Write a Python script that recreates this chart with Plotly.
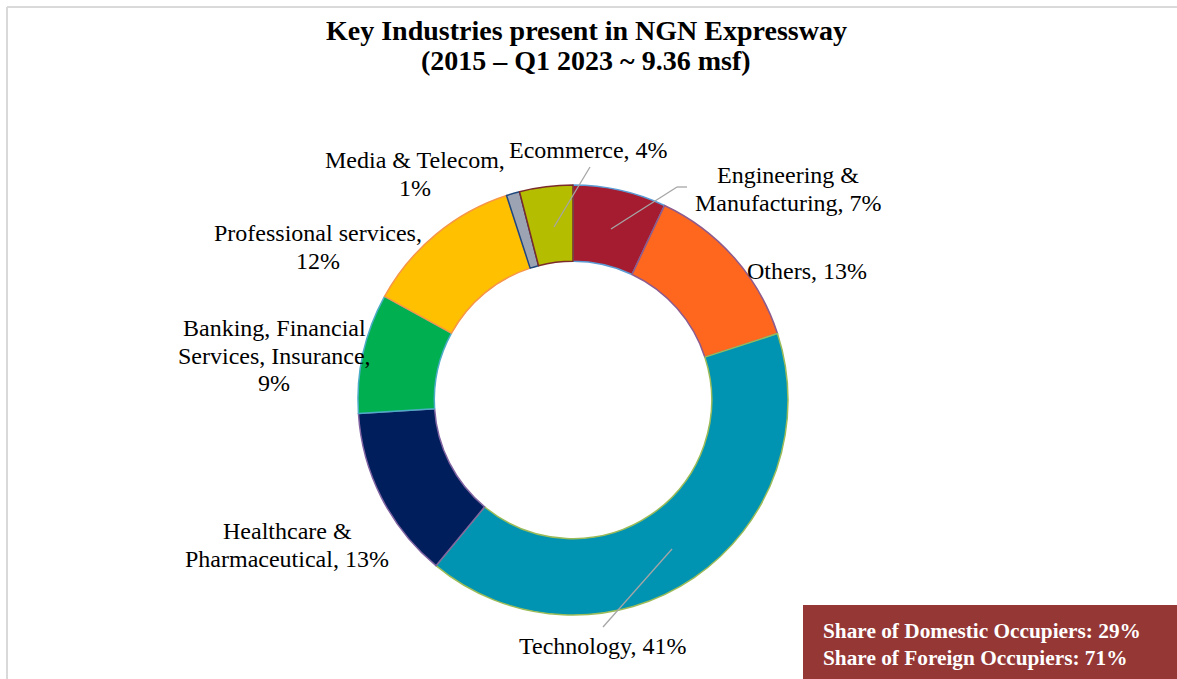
import plotly.graph_objects as go

W, H = 1177, 679

categories = ["Engineering & Manufacturing", "Others", "Technology",
              "Healthcare & Pharmaceutical", "Banking, Financial Services, Insurance",
              "Professional services", "Media & Telecom", "Ecommerce"]
shares = [7, 13, 41, 13, 9, 12, 1, 4]
label_lines = [["Engineering &", "Manufacturing, 7%"], ["Others, 13%"], ["Technology, 41%"],
               ["Healthcare &", "Pharmaceutical, 13%"],
               ["Banking, Financial", "Services, Insurance,", "9%"],
               ["Professional services,", "12%"], ["Media & Telecom,", "1%"], ["Ecommerce, 4%"]]
title_lines = ["Key Industries present in NGN Expressway", "(2015 – Q1 2023 ~ 9.36 msf)"]
info_lines = ["Share of Domestic Occupiers: 29%", "Share of Foreign Occupiers: 71%"]

fill_colors = ["#A51C30", "#FF671F", "#0093B2", "#001E5C", "#00B050", "#FFC000", "#9CA4B4", "#B5BD00"]
edge_colors = ["#5B9BD5", "#8E5B8E", "#9BBB59", "#8064A2", "#4BACC6", "#F79646", "#1F497D", "#7B2C2A"]

# label anchor positions (pixels, top-left origin): x centre, y of first line
label_pos = [(788, 175), (807, 271), (602, 646), (287, 531), (274, 328), (318, 233), (415, 160), (588, 150)]
LINE_GAP = 27.5

# leader lines (pixels)
leaders = [
    [(611, 229), (677, 187), (687, 187)],
    [(672, 549), (603, 627)],
    [(554, 227), (590, 167)],
]

SERIF = "Liberation Serif, Times New Roman, serif"

cx, cy, R = 573, 400, 215
fig = go.Figure(go.Pie(
    labels=categories, values=shares, sort=False, direction="clockwise", rotation=0,
    hole=0.645, textinfo="none", hoverinfo="label+percent",
    marker=dict(colors=fill_colors, line=dict(color=edge_colors, width=1.5)),
    domain=dict(x=[(cx - R) / W, (cx + R) / W], y=[(H - cy - R) / H, (H - cy + R) / H]),
    showlegend=False,
))

def px(x, y):
    return x / W, 1 - y / H

shapes = []
# frame lines (top and left)
shapes.append(dict(type="line", xref="paper", yref="paper", x0=7 / W, y0=1 - 7 / H, x1=1, y1=1 - 7 / H,
                   line=dict(color="#D9D9D9", width=2)))
shapes.append(dict(type="line", xref="paper", yref="paper", x0=7 / W, y0=1 - 7 / H, x1=7 / W, y1=0,
                   line=dict(color="#D9D9D9", width=2)))
for pts in leaders:
    for (a, b) in zip(pts[:-1], pts[1:]):
        x0, y0 = px(*a)
        x1, y1 = px(*b)
        shapes.append(dict(type="line", xref="paper", yref="paper", x0=x0, y0=y0, x1=x1, y1=y1,
                           line=dict(color="#A6A6A6", width=1.3)))
# info box
bx0, by0 = px(803, 605)
shapes.append(dict(type="rect", xref="paper", yref="paper", x0=bx0, y0=0, x1=1, y1=by0,
                   fillcolor="#953735", line=dict(width=0)))

annotations = []

def add_text(t, x, y, size, color="#000000", bold=False, xanchor="center"):
    ax, ay = px(x, y)
    annotations.append(dict(text=("<b>%s</b>" % t) if bold else t, x=ax, y=ay,
                            xref="paper", yref="paper", showarrow=False,
                            xanchor=xanchor, yanchor="middle", align=xanchor if xanchor != "center" else "center",
                            font=dict(family=SERIF, size=size, color=color)))

for lines, (x, y) in zip(label_lines, label_pos):
    for i, t in enumerate(lines):
        add_text(t, x, y + i * LINE_GAP, 24)

for i, t in enumerate(title_lines):
    add_text(t, 586, 31 + i * 29, 28, bold=True)

for i, t in enumerate(info_lines):
    add_text(t, 821, 631 + i * 27, 21.3, color="#FFFFFF", bold=True, xanchor="left")

fig.update_layout(width=W, height=H, margin=dict(l=0, r=0, t=0, b=0),
                  paper_bgcolor="white", plot_bgcolor="white",
                  shapes=shapes, annotations=annotations)

fig.write_html("out.html", config={"displayModeBar": False},
               post_script="document.body.style.margin='0';document.body.style.overflow='hidden';")
